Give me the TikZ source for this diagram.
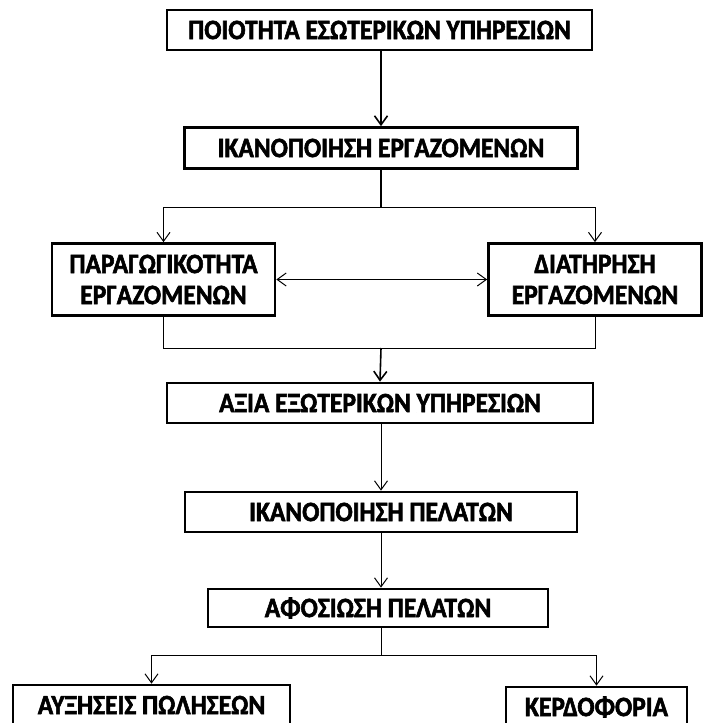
\documentclass[tikz,border=0pt]{standalone}
\usepackage{fontspec}
\setmainfont{Carlito}
\newfontfamily\labelfont{Carlito Bold}[FakeStretch=0.91, FakeBold=2]
\usetikzlibrary{arrows.meta}
\begin{document}
\begin{tikzpicture}[x=1pt,y=-1pt,
  box/.style={draw, line width=2.7pt, inner sep=0pt, align=center,
    font=\labelfont\fontsize{28}{31}\selectfont},
  link/.style={line width=1pt},
  stem/.style={line width=1.6pt},
  tip/.style={-{Straight Barb[length=9pt,width=13pt]}}]
\useasboundingbox (0,0) rectangle (703,723);

% boxes
\node[box, minimum width=425pt, minimum height=40pt] (quality) at (379.5,30) {ΠΟΙΟΤΗΤΑ ΕΣΩΤΕΡΙΚΩΝ ΥΠΗΡΕΣΙΩΝ};
\node[box, minimum width=393pt, minimum height=41pt] (staff) at (381,148) {ΙΚΑΝΟΠΟΙΗΣΗ ΕΡΓΑΖΟΜΕΝΩΝ};
\node[box, minimum width=223pt, minimum height=72pt] (prod) at (163.5,279.5) {ΠΑΡΑΓΩΓΙΚΟΤΗΤΑ\\ΕΡΓΑΖΟΜΕΝΩΝ};
\node[box, minimum width=213pt, minimum height=72pt] (ret) at (595,279.5) {ΔΙΑΤΗΡΗΣΗ\\ΕΡΓΑΖΟΜΕΝΩΝ};
\node[box, minimum width=426pt, minimum height=40pt] (value) at (380,403) {ΑΞΙΑ ΕΞΩΤΕΡΙΚΩΝ ΥΠΗΡΕΣΙΩΝ};
\node[box, minimum width=392pt, minimum height=40pt] (csat) at (381,512) {ΙΚΑΝΟΠΟΙΗΣΗ ΠΕΛΑΤΩΝ};
\node[box, minimum width=340pt, minimum height=38pt] (loyal) at (378,608) {ΑΦΟΣΙΩΣΗ ΠΕΛΑΤΩΝ};
\node[box, minimum width=277pt, minimum height=40pt] (sales) at (151.5,705) {ΑΥΞΗΣΕΙΣ ΠΩΛΗΣΕΩΝ};
\node[box, minimum width=181pt, minimum height=40pt] (profit) at (596.5,707) {ΚΕΡΔΟΦΟΡΙΑ};

% junction points
\coordinate (split1) at (381,207);
\coordinate (join) at (381,348);
\coordinate (split2) at (381,655);

% connectors
\draw[stem, tip] (staff.north |- quality.south) -- (staff.north);
\draw[stem] (staff.south) -- (split1);
\draw[link, tip] (split1) -| (prod.north);
\draw[link, tip] (split1) -| (ret.north);
\draw[link, {Straight Barb[length=9pt,width=13pt]}-{Straight Barb[length=9pt,width=13pt]}] (prod.east) -- (ret.west);
\draw[link] (prod.south) |- (join);
\draw[link] (ret.south) |- (join);
\draw[stem, tip] (join) -- (value.south |- value.north);
\draw[link, tip] (csat.north |- value.south) -- (csat.north);
\draw[link, tip] (csat.south) -- (csat.south |- loyal.north);
\draw[link] (csat.south |- loyal.south) -- (split2);
\draw[link, tip] (split2) -| (sales.north);
\draw[link, tip] (split2) -| (profit.north);
\end{tikzpicture}
\end{document}
